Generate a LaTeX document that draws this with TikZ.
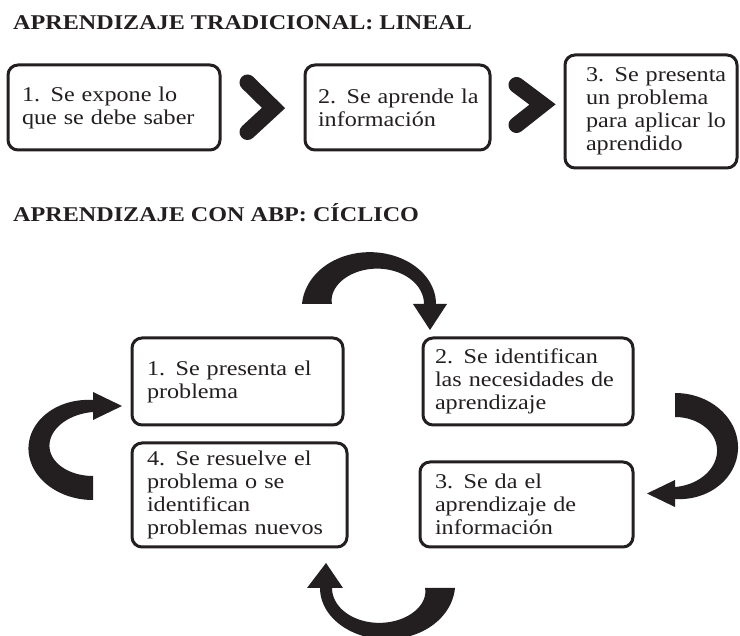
\documentclass[tikz,border=0pt]{standalone}
\usepackage{fontspec}
\setmainfont{Liberation Serif}[FakeStretch=1.15]
\usetikzlibrary{calc}
\definecolor{ink}{RGB}{35,31,32}
\tikzset{
 box/.style={draw=ink, line width=3pt, rounded corners=10pt, align=left, inner ysep=0pt,
   font=\fontsize{21}{23}\selectfont, text=ink, fill=white},
 titletext/.style={anchor=base west, inner sep=0pt, font=\fontsize{21}{24}\selectfont\bfseries, text=ink},
 chevron/.style={draw=ink, line width=16pt, line cap=round, line join=miter},
 arrowfill/.style={fill=ink},
}
\newcommand{\cycarrow}[9]{%
  \def\Acx{#1}\def\Acy{#2}\def\Arx{#3}\def\Ary{#4}\def\Ata{#5}\def\Atb{#6}\def\Awa{#7}\def\Awb{#8}%
  \ifnum#9=1
    \def\Aw{(\Awb+(\Awa-\Awb)*(1-(\x-\Ata)/(\Atb-\Ata))*(1-(\x-\Ata)/(\Atb-\Ata)))}%
  \else
    \def\Aw{(\Awb+(\Awa-\Awb)*(1-((\x-\Ata)/(\Atb-\Ata))*((\x-\Ata)/(\Atb-\Ata))))}%
  \fi
  \fill[arrowfill] plot[domain=\Ata:\Atb, samples=61] ({\Acx+(\Arx+0.5*\Aw)*cos(\x)},{\Acy+(\Ary+0.5*\Aw)*sin(\x)})
    -- plot[domain=\Atb:\Ata, samples=61] ({\Acx+(\Arx-0.5*\Aw)*cos(\x)},{\Acy+(\Ary-0.5*\Aw)*sin(\x)}) -- cycle;
}
\begin{document}
\begin{tikzpicture}[x=1pt,y=-1pt]
\clip (0,0) rectangle (740,636);
\fill[white] (0,0) rectangle (740,636);

% titles
\node[titletext] (t1) at (13,30) {APRENDIZAJE TRADICIONAL: LINEAL};
\node[titletext] (t2) at (13,222) {APRENDIZAJE CON ABP: CÍCLICO};

% linear row
\node[box, inner xsep=14pt, minimum width=212pt, minimum height=85pt, text width=184pt] (L1) at (114,107.5)
  {\mbox{1. Se expone lo}\\\mbox{que se debe saber}};
\node[box, inner xsep=13pt, minimum width=185pt, minimum height=85pt, text width=159pt] (L2) at (397.5,107.5)
  {\mbox{2. Se aprende la}\\\mbox{información}};
\node[box, inner xsep=21pt, minimum width=172pt, minimum height=113pt, text width=130pt] (L3) at (651,111.5)
  {\mbox{3. Se presenta}\\\mbox{un problema}\\\mbox{para aplicar lo}\\\mbox{aprendido}};

\draw[chevron] ($(L1.east)+(26,-25)$) -- ($(L1.east)+(52,0.5)$) -- ($(L1.east)+(26,24.5)$);
\draw[chevron] ($(L2.east)+(25,-22.5)$) -- ($(L2.east)+(51,-3)$) -- ($(L2.east)+(25,17.5)$);

% cycle
\node[box, inner xsep=15pt, minimum width=211pt, minimum height=87pt, text width=181pt] (B1) at (237.5,381.5)
  {\mbox{1. Se presenta el}\\\mbox{problema}};
\node[box, inner xsep=12pt, minimum width=210pt, minimum height=87pt, text width=186pt] (B2) at (528,381.5)
  {\mbox{2. Se identifican}\\\mbox{las necesidades de}\\\mbox{aprendizaje}};
\node[box, inner xsep=15pt, minimum width=213pt, minimum height=85pt, text width=183pt] (B3) at (526.5,504.5)
  {\mbox{3. Se da el}\\\mbox{aprendizaje de}\\\mbox{información}};
\node[box, inner xsep=15pt, minimum width=215pt, minimum height=104pt, text width=185pt] (B4) at (239.5,495)
  {\mbox{4. Se resuelve el}\\\mbox{problema o se}\\\mbox{identifican}\\\mbox{problemas nuevos}};

% curved arrows
\cycarrow{373.5}{304}{56.5}{43.5}{180}{360}{30}{12}{1}
\fill[arrowfill] (413,304) -- (447,304) -- (430,330) -- cycle;
\cycarrow{675}{449}{52.5}{44}{270}{450}{24}{12}{0}
\fill[arrowfill] (675,480) -- (675,507) -- (647,493.5) -- cycle;
\cycarrow{383}{588}{57}{43}{0}{180}{30}{12}{1}
\fill[arrowfill] (307,588) -- (343,588) -- (326,563) -- cycle;
\cycarrow{93}{447}{54}{41}{90}{270}{24}{12}{0}
\fill[arrowfill] (93,392) -- (93,420) -- (122,406) -- cycle;
\end{tikzpicture}
\end{document}
